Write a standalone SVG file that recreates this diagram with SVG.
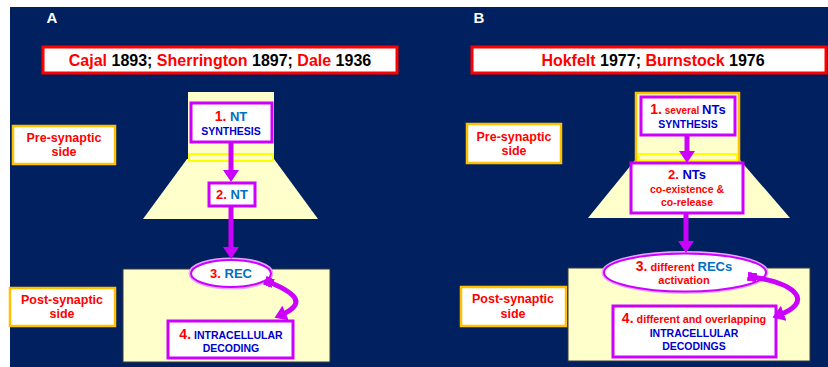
<svg xmlns="http://www.w3.org/2000/svg" width="828" height="367" viewBox="0 0 828 367">
<style>
text{font-family:"Liberation Sans",Arial,sans-serif;font-weight:bold;text-anchor:middle}
.r{fill:#FF0000}.lb{fill:#0070C0}.db{fill:#0000CC}.k{fill:#000000}.w{fill:#FFFFFF}
.title{fill:#FFFFFF;stroke:#FF0000;stroke-width:3}
.side{fill:#FFFFFF;stroke:#FFC000;stroke-width:2.5}
.cell{fill:#FFFFCC}
.band{fill:none;stroke:#FFFF00;stroke-width:2}
.box{fill:#FFFFFF;stroke:#CC00FF;stroke-width:3}
.post{fill:#FFFFCC;stroke:#3A3A3A;stroke-width:1}
.glow{fill:none;stroke:#E9A6FF;stroke-width:5}
.ell{fill:#FFFFFF;stroke:#CC00FF;stroke-width:2}
.arr{fill:none;stroke:#CC00FF;stroke-width:5}
</style>
<defs>
<marker id="ah" viewBox="0 0 12 16" refX="5" refY="8" markerWidth="12" markerHeight="16" markerUnits="userSpaceOnUse" orient="auto"><path d="M0,0 L12,8 L0,16 z" fill="#CC00FF"/></marker>
<marker id="sq" viewBox="0 0 9 9" refX="4.5" refY="4.5" markerWidth="9" markerHeight="9" markerUnits="userSpaceOnUse" orient="auto"><rect x="0" y="0" width="9" height="9" fill="#CC00FF"/></marker>
</defs>
<rect x="10" y="7" width="818" height="360" fill="#002060"/>

<g id="panelA">
<text x="52" y="23" class="w" font-size="15">A</text>
<g id="titleA"><rect x="43" y="47" width="354" height="26" class="title"/>
<text x="220" y="66" font-size="16"><tspan class="r">Cajal</tspan><tspan class="k"> 1893; </tspan><tspan class="r">Sherrington</tspan><tspan class="k"> 1897; </tspan><tspan class="r">Dale</tspan><tspan class="k"> 1936</tspan></text></g>
<g id="preA"><rect x="13" y="126" width="102" height="38" class="side"/>
<text x="64" y="142" class="r" font-size="12.5">Pre-synaptic</text><text x="64" y="156" class="r" font-size="12.5">side</text></g>
<g id="postA"><rect x="10" y="288" width="105" height="38" class="side"/>
<text x="62" y="304" class="r" font-size="12.5">Post-synaptic</text><text x="62" y="318" class="r" font-size="12.5">side</text></g>
<g id="terminalA"><rect x="188" y="92" width="86" height="68" class="cell"/>
<polygon points="187,159 274,159 318,219 143,219" class="cell"/>
<rect x="189" y="154" width="84" height="7" class="band"/></g>
<g id="postcellA"><rect x="123" y="269" width="207" height="93" class="post"/></g>
<g id="nA1"><rect x="191" y="103" width="81" height="39" class="box"/>
<text x="231" y="121" font-size="14"><tspan class="r">1.</tspan><tspan class="lb" font-size="13"> NT</tspan></text>
<text x="231" y="135" class="db" font-size="10.5">SYNTHESIS</text></g>
<g id="nA2"><rect x="209" y="183" width="46" height="23" class="box"/>
<text x="232" y="199" font-size="13"><tspan class="r">2.</tspan><tspan class="lb"> NT</tspan></text></g>
<g id="nA3"><ellipse cx="231" cy="273.5" rx="40" ry="13.5" class="glow"/><ellipse cx="231" cy="273.5" rx="40" ry="13.5" class="ell"/>
<text x="231" y="278" font-size="13"><tspan class="r">3.</tspan><tspan class="lb"> REC</tspan></text></g>
<g id="nA4"><rect x="168" y="321" width="125" height="37" class="box"/>
<text x="231" y="339"><tspan class="r" font-size="14">4.</tspan><tspan class="db" font-size="10.5"> INTRACELLULAR</tspan></text>
<text x="231" y="352" class="db" font-size="10.5">DECODING</text></g>
</g>

<g id="panelB">
<text x="479" y="23" class="w" font-size="15">B</text>
<g id="titleB"><rect x="472" y="47" width="354" height="26" class="title"/>
<text x="653" y="66" font-size="16"><tspan class="r">Hokfelt</tspan><tspan class="k"> 1977; </tspan><tspan class="r">Burnstock</tspan><tspan class="k"> 1976</tspan></text></g>
<g id="preB"><rect x="467" y="124" width="94" height="39" class="side"/>
<text x="514" y="141" class="r" font-size="12.5">Pre-synaptic</text><text x="514" y="155" class="r" font-size="12.5">side</text></g>
<g id="postB"><rect x="461" y="287" width="105" height="39" class="side"/>
<text x="513" y="303" class="r" font-size="12.5">Post-synaptic</text><text x="513" y="318" class="r" font-size="12.5">side</text></g>
<g id="terminalB"><polygon points="636,159 739,159 790,218 588,218" class="cell"/>
<rect x="636" y="93" width="103" height="68" class="cell" stroke="#FFC000" stroke-width="2.5"/>
<rect x="638" y="154" width="99" height="7" class="band"/></g>
<g id="postcellB"><rect x="568" y="268" width="242" height="93" class="post"/></g>
<g id="nB1"><rect x="641" y="97" width="94" height="38" class="box"/>
<text x="688" y="114"><tspan class="r" font-size="14">1.</tspan><tspan class="r" font-size="10"> several </tspan><tspan class="db" font-size="13">NTs</tspan></text>
<text x="688" y="128" class="db" font-size="10.5">SYNTHESIS</text></g>
<g id="nB2"><rect x="631" y="163" width="112" height="50" class="box"/>
<text x="687" y="179" font-size="13"><tspan class="r">2.</tspan><tspan class="db"> NTs</tspan></text>
<text x="687" y="193" class="r" font-size="10.5">co-existence &amp;</text>
<text x="687" y="206" class="r" font-size="10.5">co-release</text></g>
<g id="nB3"><ellipse cx="685" cy="272.5" rx="81" ry="19" class="glow"/><ellipse cx="685" cy="272.5" rx="81" ry="19" class="ell"/>
<text x="684" y="271"><tspan class="r" font-size="14">3.</tspan><tspan class="r" font-size="11"> different </tspan><tspan class="lb" font-size="13">RECs</tspan></text>
<text x="684" y="284" class="r" font-size="11">activation</text></g>
<g id="nB4"><rect x="613" y="306" width="163" height="51" class="box"/>
<text x="694" y="323"><tspan class="r" font-size="14">4.</tspan><tspan class="r" font-size="10.8"> different and overlapping</tspan></text>
<text x="694" y="337" class="db" font-size="10.5">INTRACELLULAR</text>
<text x="694" y="350" class="db" font-size="10.5">DECODINGS</text></g>
</g>

<g id="connectors">
<line x1="231" y1="142" x2="231" y2="175" class="arr" marker-end="url(#ah)"/>
<line x1="231" y1="206" x2="231" y2="252" class="arr" marker-end="url(#ah)"/>
<path d="M269,282 C298,294 306,304 281,315" class="arr" marker-start="url(#sq)" marker-end="url(#ah)"/>
<line x1="687" y1="135" x2="687" y2="156" class="arr" marker-end="url(#ah)"/>
<line x1="686" y1="213" x2="686" y2="246" class="arr" marker-end="url(#ah)"/>
<path d="M752,277 C800,284 812,303 779,315" class="arr" marker-start="url(#sq)" marker-end="url(#ah)"/>
</g>
</svg>
